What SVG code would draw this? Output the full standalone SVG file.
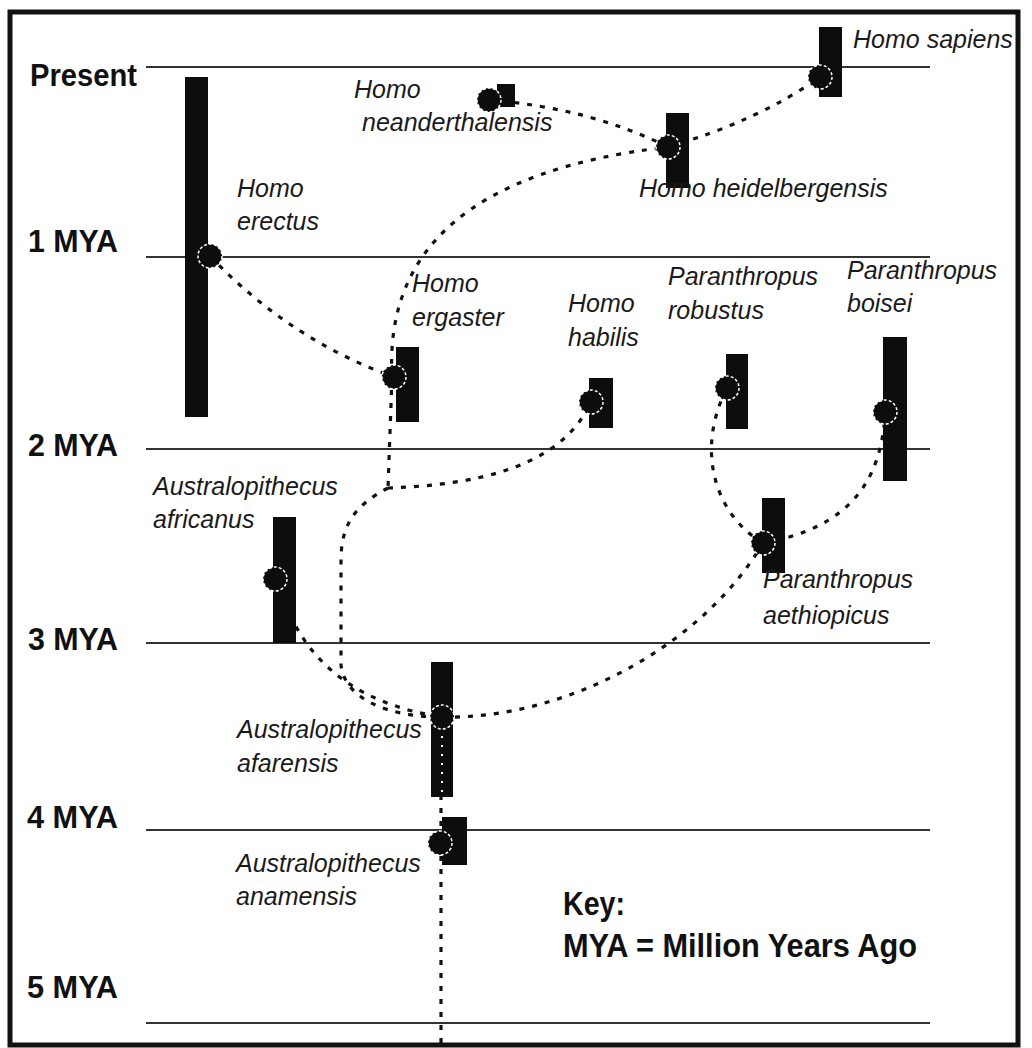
<svg xmlns="http://www.w3.org/2000/svg" width="1032" height="1048" viewBox="0 0 1032 1048">
<style>
.frame{fill:none;stroke:#111;stroke-width:5}
.tl{stroke:#333;stroke-width:2}
.ax{font-family:"Liberation Sans",Arial,sans-serif;font-weight:bold;font-size:32px;fill:#111}
.key{font-family:"Liberation Sans",Arial,sans-serif;font-weight:bold;font-size:33px;fill:#111}
.sp{font-family:"Liberation Sans",Arial,sans-serif;font-style:italic;font-size:25px;fill:#1a1a1a}
.bar{fill:#0d0d0d}
.dot{fill:#0d0d0d;stroke:#fff;stroke-width:1.5;stroke-dasharray:3 2}
.con{fill:none;stroke:#111;stroke-width:3.2;stroke-dasharray:5 8}
.wcon{fill:none;stroke:#fff;stroke-width:2;stroke-dasharray:2 7}
</style>
<rect x="0" y="0" width="1032" height="1048" fill="#fff"/>
<rect class="frame" x="10" y="12" width="1008" height="1033"/>
<g id="timeline">
<line class="tl" x1="146" y1="67" x2="930" y2="67"/>
<line class="tl" x1="146" y1="257" x2="930" y2="257"/>
<line class="tl" x1="146" y1="449" x2="930" y2="449"/>
<line class="tl" x1="146" y1="643" x2="930" y2="643"/>
<line class="tl" x1="146" y1="830" x2="930" y2="830"/>
<line class="tl" x1="146" y1="1023" x2="930" y2="1023"/>
</g>
<g id="axis-labels">
<text class="ax" x="30" y="86" textLength="107" lengthAdjust="spacingAndGlyphs">Present</text>
<text class="ax" x="28" y="252" textLength="90" lengthAdjust="spacingAndGlyphs">1 MYA</text>
<text class="ax" x="28" y="456" textLength="90" lengthAdjust="spacingAndGlyphs">2 MYA</text>
<text class="ax" x="28" y="650" textLength="90" lengthAdjust="spacingAndGlyphs">3 MYA</text>
<text class="ax" x="27" y="828" textLength="91" lengthAdjust="spacingAndGlyphs">4 MYA</text>
<text class="ax" x="27" y="998" textLength="91" lengthAdjust="spacingAndGlyphs">5 MYA</text>
</g>
<g id="connectors">
<path class="con" d="M 210 256 Q 290 340 394 377"/>
<path class="con" d="M 392 377 C 385 250 470 170 668 147"/>
<path class="con" d="M 392 377 L 388 488"/>
<path class="con" d="M 388 488 C 470 485 560 470 591 402"/>
<path class="con" d="M 388 488 C 355 505 341 525 341 560 L 341 665 C 345 700 390 717 442 717"/>
<path class="con" d="M 290 615 Q 330 700 442 717"/>
<path class="con" d="M 442 717 C 560 720 700 650 763 543"/>
<path class="con" d="M 763 543 C 715 515 695 450 727 388"/>
<path class="con" d="M 763 543 C 850 528 882 480 885 412"/>
<path class="con" d="M 668 147 Q 590 108 489 100"/>
<path class="con" d="M 668 147 Q 760 120 820 77"/>
<path class="con" d="M 441 717 L 441 843"/>
<path class="con" d="M 441 843 L 441 1046"/>
</g>
<g id="homo-sapiens">
<rect class="bar" x="819" y="27" width="23" height="70"/>
<circle class="dot" cx="820" cy="77" r="12"/>
<text class="sp" x="853" y="48">Homo sapiens</text>
</g>
<g id="homo-neanderthalensis">
<rect class="bar" x="497" y="84" width="18" height="23"/>
<circle class="dot" cx="489" cy="100" r="12"/>
<text class="sp" x="354" y="98">Homo</text>
<text class="sp" x="362" y="131">neanderthalensis</text>
</g>
<g id="homo-heidelbergensis">
<rect class="bar" x="666" y="113" width="23" height="75"/>
<circle class="dot" cx="668" cy="147" r="12"/>
<text class="sp" x="639" y="197">Homo heidelbergensis</text>
</g>
<g id="homo-erectus">
<rect class="bar" x="185" y="77" width="23" height="340"/>
<circle class="dot" cx="210" cy="256" r="12"/>
<text class="sp" x="237" y="197">Homo</text>
<text class="sp" x="237" y="230">erectus</text>
</g>
<g id="homo-ergaster">
<rect class="bar" x="396" y="347" width="23" height="75"/>
<circle class="dot" cx="394" cy="377" r="12"/>
<text class="sp" x="412" y="292">Homo</text>
<text class="sp" x="412" y="326">ergaster</text>
</g>
<g id="homo-habilis">
<rect class="bar" x="589" y="378" width="24" height="50"/>
<circle class="dot" cx="591" cy="402" r="12"/>
<text class="sp" x="568" y="312">Homo</text>
<text class="sp" x="568" y="346">habilis</text>
</g>
<g id="paranthropus-robustus">
<rect class="bar" x="726" y="354" width="22" height="75"/>
<circle class="dot" cx="727" cy="388" r="12"/>
<text class="sp" x="668" y="285">Paranthropus</text>
<text class="sp" x="668" y="319">robustus</text>
</g>
<g id="paranthropus-boisei">
<rect class="bar" x="883" y="337" width="24" height="144"/>
<circle class="dot" cx="885" cy="412" r="12"/>
<text class="sp" x="847" y="279">Paranthropus</text>
<text class="sp" x="847" y="312">boisei</text>
</g>
<g id="paranthropus-aethiopicus">
<rect class="bar" x="762" y="498" width="23" height="75"/>
<circle class="dot" cx="763" cy="543" r="12"/>
<text class="sp" x="763" y="588">Paranthropus</text>
<text class="sp" x="763" y="624">aethiopicus</text>
</g>
<g id="australopithecus-africanus">
<rect class="bar" x="273" y="517" width="23" height="126"/>
<circle class="dot" cx="275" cy="579" r="12"/>
<text class="sp" x="153" y="495">Australopithecus</text>
<text class="sp" x="153" y="528">africanus</text>
</g>
<g id="australopithecus-afarensis">
<rect class="bar" x="431" y="662" width="22" height="135"/>
<path class="wcon" d="M 442 736 L 442 796"/>
<circle class="dot" cx="442" cy="717" r="12"/>
<text class="sp" x="237" y="738">Australopithecus</text>
<text class="sp" x="237" y="772">afarensis</text>
</g>
<g id="australopithecus-anamensis">
<rect class="bar" x="442" y="817" width="25" height="48"/>
<circle class="dot" cx="440" cy="843" r="12"/>
<text class="sp" x="236" y="872">Australopithecus</text>
<text class="sp" x="236" y="905">anamensis</text>
</g>
<g id="key">
<text class="key" x="563" y="915" textLength="62" lengthAdjust="spacingAndGlyphs">Key:</text>
<text class="key" x="563" y="957" textLength="354" lengthAdjust="spacingAndGlyphs">MYA = Million Years Ago</text>
</g>
</svg>
